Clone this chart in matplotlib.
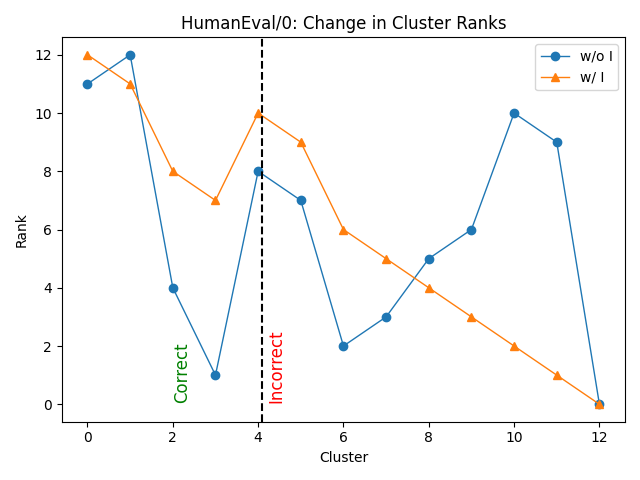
import matplotlib
matplotlib.use("Agg")
import matplotlib.pyplot as plt

clusters = list(range(13))
rank_without = [11, 12, 4, 1, 8, 7, 2, 3, 5, 6, 10, 9, 0]
rank_with = [12, 11, 8, 7, 10, 9, 6, 5, 4, 3, 2, 1, 0]
split_x = 4.1

fig, ax = plt.subplots(figsize=(6.4, 4.8), dpi=100)
ax.plot(clusters, rank_without, marker="o", linewidth=1, label="w/o I")
ax.plot(clusters, rank_with, marker="^", linewidth=1, label="w/ I")
ax.axvline(split_x, color="black", linestyle="--")
ax.text(2.0, 0.05, "Correct", rotation=90, color="green", fontsize=12, va="bottom")
ax.text(4.22, 0.05, "Incorrect", rotation=90, color="red", fontsize=12, va="bottom")
ax.set_title("HumanEval/0: Change in Cluster Ranks")
ax.set_xlabel("Cluster")
ax.set_ylabel("Rank")
ax.legend()
fig.tight_layout()
fig.savefig("out.png")
